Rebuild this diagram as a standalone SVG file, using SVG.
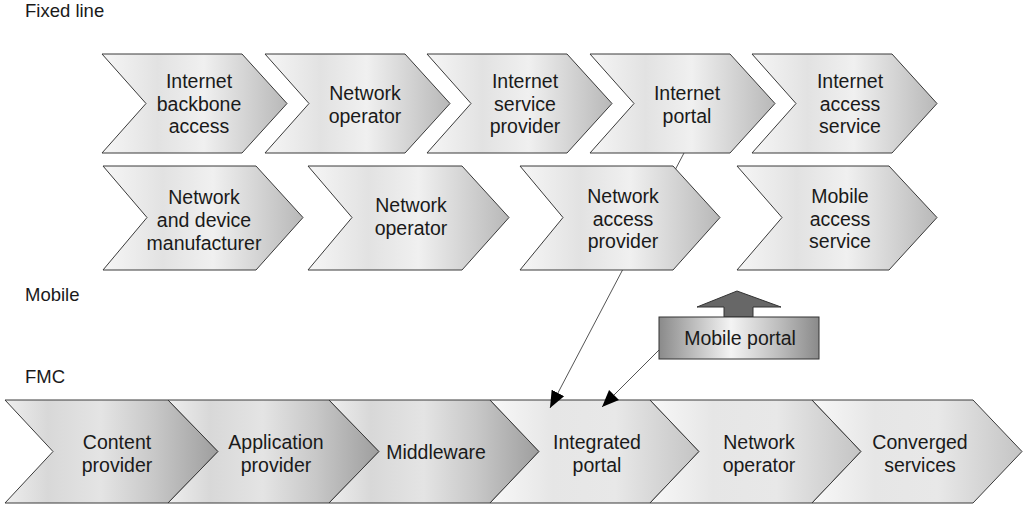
<svg xmlns="http://www.w3.org/2000/svg" width="1023" height="507" viewBox="0 0 1023 507">
<style>
.ch{stroke:#3a3a3a;stroke-width:1;stroke-linejoin:miter}
.t{font-family:"Liberation Sans",Arial,sans-serif;font-size:19.5px;fill:#1a1a1a;text-anchor:middle}
.lbl{font-family:"Liberation Sans",Arial,sans-serif;font-size:18.5px;fill:#1a1a1a}
.con{stroke:#555;stroke-width:1;fill:none}
</style>
<defs>
<linearGradient id="gL" x1="0" y1="0" x2="1" y2="0">
<stop offset="0" stop-color="#f6f6f6"/>
<stop offset="0.3" stop-color="#e2e2e2"/>
<stop offset="0.55" stop-color="#f0f0f0"/>
<stop offset="1" stop-color="#b8b8b8"/>
</linearGradient>
<linearGradient id="gD" x1="0" y1="0" x2="1" y2="0">
<stop offset="0" stop-color="#eeeeee"/>
<stop offset="0.2" stop-color="#d8d8d8"/>
<stop offset="0.45" stop-color="#e4e4e4"/>
<stop offset="0.7" stop-color="#c8c8c8"/>
<stop offset="1" stop-color="#9e9e9e"/>
</linearGradient>
<linearGradient id="gF" x1="0" y1="0" x2="1" y2="0">
<stop offset="0" stop-color="#f8f8f8"/>
<stop offset="0.3" stop-color="#e6e6e6"/>
<stop offset="0.6" stop-color="#e8e8e8"/>
<stop offset="1" stop-color="#c4c4c4"/>
</linearGradient>
<linearGradient id="gP" x1="0" y1="0" x2="1" y2="0">
<stop offset="0" stop-color="#8a8a8a"/>
<stop offset="0.45" stop-color="#f4f4f4"/>
<stop offset="0.75" stop-color="#bdbdbd"/>
<stop offset="1" stop-color="#8a8a8a"/>
</linearGradient>
<marker id="ah" markerUnits="userSpaceOnUse" markerWidth="18" markerHeight="15" refX="17" refY="7" orient="auto" viewBox="0 0 18 14">
<path d="M0,0 L17,7 L0,14 z" fill="#000"/>
</marker>
</defs>

<text class="lbl" x="25" y="17">Fixed line</text>
<text class="lbl" x="25" y="301">Mobile</text>
<text class="lbl" x="25" y="383">FMC</text>

<!-- Row 3: FMC -->
<g id="c1"><path class="ch" fill="url(#gD)" d="M5,400 H168 L218,451.5 L168,503 H5 L53,451.5 Z"/>
<text class="t" x="117"><tspan x="117" y="449">Content</tspan><tspan x="117" y="472">provider</tspan></text></g>
<g id="c2"><path class="ch" fill="url(#gD)" d="M168,400 H329 L379,451.5 L329,503 H168 L218,451.5 Z"/>
<text class="t" x="276"><tspan x="276" y="449">Application</tspan><tspan x="276" y="472">provider</tspan></text></g>
<g id="c3"><path class="ch" fill="url(#gD)" d="M329,400 H490 L539,451.5 L490,503 H329 L379,451.5 Z"/>
<text class="t" x="436" y="459">Middleware</text></g>
<g id="c4"><path class="ch" fill="url(#gF)" d="M490,400 H650 L699,451.5 L650,503 H490 L539,451.5 Z"/>
<text class="t" x="597"><tspan x="597" y="449">Integrated</tspan><tspan x="597" y="472">portal</tspan></text></g>
<g id="c5"><path class="ch" fill="url(#gF)" d="M650,400 H812 L861,451.5 L812,503 H650 L699,451.5 Z"/>
<text class="t" x="759"><tspan x="759" y="449">Network</tspan><tspan x="759" y="472">operator</tspan></text></g>
<g id="c6"><path class="ch" fill="url(#gF)" d="M812,400 H973 L1022,451.5 L973,503 H812 L861,451.5 Z"/>
<text class="t" x="920"><tspan x="920" y="449">Converged</tspan><tspan x="920" y="472">services</tspan></text></g>

<g id="connectors">
<line class="con" x1="684" y1="153" x2="550" y2="408" marker-end="url(#ah)"/>
<line class="con" x1="659" y1="350" x2="602" y2="407" marker-end="url(#ah)"/>
</g>

<!-- Row 1: Fixed line -->
<g id="f1"><path class="ch" fill="url(#gL)" d="M102,54 H242 L287,103.5 L242,153 H102 L146,103.5 Z"/>
<text class="t" x="199"><tspan x="199" y="88">Internet</tspan><tspan x="199" y="110.5">backbone</tspan><tspan x="199" y="133">access</tspan></text></g>
<g id="f2"><path class="ch" fill="url(#gL)" d="M265,54 H405 L450,103.5 L405,153 H265 L309,103.5 Z"/>
<text class="t" x="365"><tspan x="365" y="100">Network</tspan><tspan x="365" y="122.5">operator</tspan></text></g>
<g id="f3"><path class="ch" fill="url(#gL)" d="M427,54 H567 L612,103.5 L567,153 H427 L471,103.5 Z"/>
<text class="t" x="525"><tspan x="525" y="88">Internet</tspan><tspan x="525" y="110.5">service</tspan><tspan x="525" y="133">provider</tspan></text></g>
<g id="f4"><path class="ch" fill="url(#gL)" d="M590,54 H730 L775,103.5 L730,153 H590 L634,103.5 Z"/>
<text class="t" x="687"><tspan x="687" y="100">Internet</tspan><tspan x="687" y="122.5">portal</tspan></text></g>
<g id="f5"><path class="ch" fill="url(#gL)" d="M752,54 H892 L937,103.5 L892,153 H752 L796,103.5 Z"/>
<text class="t" x="850"><tspan x="850" y="88">Internet</tspan><tspan x="850" y="110.5">access</tspan><tspan x="850" y="133">service</tspan></text></g>

<!-- Row 2: Mobile -->
<g id="m1"><path class="ch" fill="url(#gL)" d="M103,166 H256 L303,217.5 L256,270 H103 L147,217.5 Z"/>
<text class="t" x="204"><tspan x="204" y="204">Network</tspan><tspan x="204" y="227">and device</tspan><tspan x="204" y="250">manufacturer</tspan></text></g>
<g id="m2"><path class="ch" fill="url(#gL)" d="M308,166 H462 L509,217.5 L462,270 H308 L352,217.5 Z"/>
<text class="t" x="411"><tspan x="411" y="212">Network</tspan><tspan x="411" y="235">operator</tspan></text></g>
<g id="m3"><path class="ch" fill="url(#gL)" d="M520,166 H673 L720,217.5 L673,270 H520 L563,217.5 Z"/>
<text class="t" x="623"><tspan x="623" y="203">Network</tspan><tspan x="623" y="226">access</tspan><tspan x="623" y="248">provider</tspan></text></g>
<g id="m4"><path class="ch" fill="url(#gL)" d="M737,166 H889 L937,217.5 L889,270 H737 L782,217.5 Z"/>
<text class="t" x="840"><tspan x="840" y="203">Mobile</tspan><tspan x="840" y="226">access</tspan><tspan x="840" y="248">service</tspan></text></g>

<!-- Mobile portal -->
<g id="mobile-portal">
<path d="M724,317 V307 H697 L737,291 L781,307 H753 V317 Z" fill="#676767" stroke="#333" stroke-width="1"/>
<rect x="659" y="317" width="160" height="42" fill="url(#gP)" stroke="#333" stroke-width="1"/>
<text class="t" x="740" y="345">Mobile portal</text>
</g>
</svg>
